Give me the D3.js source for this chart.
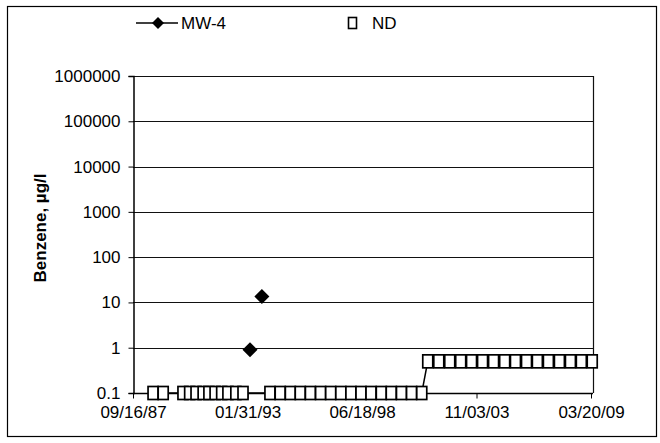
<!DOCTYPE html>
<html><head><meta charset="utf-8">
<script src="https://cdn.jsdelivr.net/npm/d3@7/dist/d3.min.js"></script>
<style>body{margin:0;background:#fff}svg{display:block;font-family:"Liberation Sans",Arial,sans-serif}</style>
</head><body>
<svg id="c" width="660" height="443"></svg>
<script>
// ---- data ----
const yTickValues = [0.1, 1, 10, 100, 1000, 10000, 100000, 1000000];
const yTickLabels = ["0.1", "1", "10", "100", "1000", "10000", "100000", "1000000"];
const xTickDates = ["1987-09-16", "1993-01-31", "1998-06-18", "2003-11-03", "2009-03-20"];
const xTickLabels = ["09/16/87", "01/31/93", "06/18/98", "11/03/03", "03/20/09"];
// MW-4 detections
const mw4Dates = ["1993-03-15", "1993-10-05"];
const mw4Values = [0.9, 13.6];
// Non-detects (plotted at reporting limit)
const ndDates = [
  "1988-08-25","1989-02-15","1990-01-20","1990-05-15","1990-09-01","1991-01-01","1991-04-10",
  "1991-07-25","1991-11-15","1992-03-01","1992-07-15","1992-11-15",
  "1994-02-20","1994-08-15","1995-02-05","1995-07-25","1996-01-15","1996-07-08","1996-12-28",
  "1997-06-20","1997-12-10","1998-06-01","1998-11-20","1999-05-15","1999-11-02","2000-04-25",
  "2000-10-15","2001-04-08",
  "2001-07-20","2002-01-25","2002-08-01","2003-02-05","2003-08-10","2004-02-15","2004-08-22",
  "2005-02-28","2005-09-01","2006-03-10","2006-09-12","2007-03-20","2007-09-25","2008-04-01",
  "2008-10-05","2009-04-10"];
const ndValues = [
  0.1,0.1,0.1,0.1,0.1,0.1,0.1,0.1,0.1,0.1,0.1,0.1,
  0.1,0.1,0.1,0.1,0.1,0.1,0.1,0.1,0.1,0.1,0.1,0.1,0.1,0.1,0.1,0.1,
  0.5,0.5,0.5,0.5,0.5,0.5,0.5,0.5,0.5,0.5,0.5,0.5,0.5,0.5,0.5,0.5];

// ---- drawing ----
const parse = d3.timeParse("%Y-%m-%d");
const svg = d3.select("#c");
const L = 133, R = 593, T = 76, B = 393;
const FS = 17;
const x = d3.scaleTime().domain([parse(xTickDates[0]), parse(xTickDates[xTickDates.length-1])]).range([L, 591]);
const y = d3.scaleLog().domain([0.1, 1000000]).range([B, T]);

// outer frame
svg.append("rect").attr("x",7.5).attr("y",6.5).attr("width",649).attr("height",430)
  .attr("fill","none").attr("stroke","#000").attr("stroke-width",1.2);

// gridlines
svg.append("g").selectAll("line").data(yTickValues.slice(1)).join("line")
  .attr("x1",L).attr("x2",R).attr("y1",d=>Math.round(y(d))+0.5).attr("y2",d=>Math.round(y(d))+0.5)
  .attr("stroke","#111").attr("stroke-width",1);
// right border of plot area
svg.append("line").attr("x1",R+0.5).attr("x2",R+0.5).attr("y1",T).attr("y2",B)
  .attr("stroke","#111").attr("stroke-width",1.2);

// y axis
const yAxis = d3.axisLeft(y).tickValues(yTickValues).tickFormat((d,i)=>yTickLabels[i]).tickSize(5).tickPadding(8);
const gy = svg.append("g").attr("transform",`translate(${L+0.5},0)`).call(yAxis);
gy.selectAll(".tick text").attr("font-size",FS).attr("fill","#000").attr("font-family","Liberation Sans, Arial, sans-serif");
gy.select(".domain").attr("stroke","#000").attr("stroke-width",1.5);
gy.selectAll(".tick line").attr("stroke","#000");

// x axis
const xAxis = d3.axisBottom(x).tickValues(xTickDates.map(parse)).tickFormat((d,i)=>xTickLabels[i]).tickSize(5).tickPadding(7);
const gx = svg.append("g").attr("transform",`translate(0,${B+0.5})`).call(xAxis);
gx.selectAll(".tick text").attr("font-size",FS).attr("fill","#000").attr("font-family","Liberation Sans, Arial, sans-serif");
gx.select(".domain").attr("d",`M${L},0H${R}`).attr("stroke","#000").attr("stroke-width",1.5);
gx.selectAll(".tick line").attr("stroke","#000");

// y label
svg.append("text").attr("transform","translate(46,228) rotate(-90)").attr("text-anchor","middle")
  .attr("font-size",17).attr("font-weight","bold").text("Benzene, µg/l");

// ND connecting line
const nd = ndDates.map((d,i)=>({date:parse(d), v:ndValues[i]}));
const line = d3.line().x(d=>x(d.date)).y(d=>y(d.v));
svg.append("path").datum(nd).attr("d",line).attr("fill","none").attr("stroke","#000").attr("stroke-width",1.5);

// ND squares
svg.append("g").selectAll("rect").data(nd).join("rect")
  .attr("x",d=>x(d.date)-5).attr("y",d=>y(d.v)-6.5).attr("width",10).attr("height",13)
  .attr("fill","#fff").attr("stroke","#000").attr("stroke-width",1.7);

// MW-4 diamonds
const diamond = (cx,cy,r)=>`M${cx},${cy-r}L${cx+r},${cy}L${cx},${cy+r}L${cx-r},${cy}Z`;
const mw = mw4Dates.map((d,i)=>({date:parse(d), v:mw4Values[i]}));
svg.append("g").selectAll("path").data(mw).join("path")
  .attr("d",d=>diamond(x(d.date),y(d.v),7.5)).attr("fill","#000");

// legend
svg.append("line").attr("x1",136).attr("x2",178).attr("y1",23).attr("y2",23).attr("stroke","#000").attr("stroke-width",1.5);
svg.append("path").attr("d",diamond(158,23,6)).attr("fill","#000");
svg.append("text").attr("x",181).attr("y",29).attr("font-size",FS).text("MW-4");
svg.append("rect").attr("x",348.5).attr("y",17.5).attr("width",8).attr("height",11).attr("fill","#fff").attr("stroke","#000").attr("stroke-width",1.6);
svg.append("text").attr("x",372).attr("y",29).attr("font-size",FS).text("ND");
</script>
</body></html>
